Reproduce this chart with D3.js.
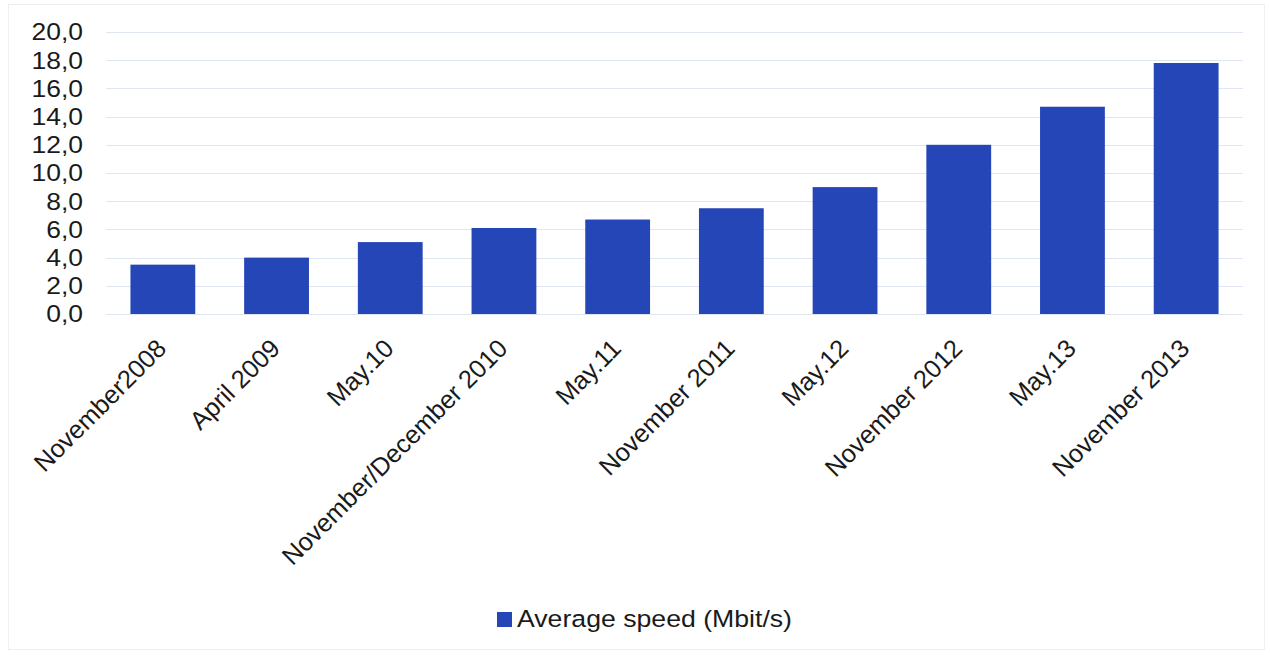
<!DOCTYPE html>
<html>
<head>
<meta charset="utf-8">
<script src="https://cdn.jsdelivr.net/npm/d3@7"></script>
<style>
  html, body { margin: 0; padding: 0; background: #fff; }
  svg { display: block; }
  text { font-family: "Liberation Sans", Arial, sans-serif; fill: #1a1a1a; }
</style>
</head>
<body>
<svg id="chart" width="1270" height="655"></svg>
<script>
// Average broadband speed per survey period
const categories = [
  "November2008", "April 2009", "May.10", "November/December 2010", "May.11",
  "November 2011", "May.12", "November 2012", "May.13", "November 2013"
];
const speeds = [3.5, 4.0, 5.1, 6.1, 6.7, 7.5, 9.0, 12.0, 14.7, 17.8];
const yTicks = [0, 2, 4, 6, 8, 10, 12, 14, 16, 18, 20];
const seriesName = "Average speed (Mbit/s)";

const svg = d3.select("#chart");
const W = 1270, H = 655;
const plot = { left: 106, right: 1243, top: 32, bottom: 314 };
const barColor = "#2546b6";

// faint outer frame
svg.append("rect")
  .attr("x", 8.5).attr("y", 4.5)
  .attr("width", W - 14).attr("height", H - 10)
  .attr("fill", "none").attr("stroke", "#eceff4").attr("stroke-width", 1);

const x = d3.scaleBand()
  .domain(categories)
  .range([plot.left, plot.right])
  .paddingInner(0.43)
  .paddingOuter(0.215);

const y = d3.scaleLinear()
  .domain([0, 20])
  .range([plot.bottom, plot.top]);

const locale = d3.formatLocale({ decimal: ",", thousands: ".", grouping: [3], currency: ["", ""] });
const fmt = locale.format(".1f");

// horizontal gridlines
svg.append("g")
  .selectAll("line")
  .data(yTicks)
  .join("line")
  .attr("x1", plot.left).attr("x2", plot.right)
  .attr("y1", d => Math.round(y(d)) + 0.5).attr("y2", d => Math.round(y(d)) + 0.5)
  .attr("stroke", "#dfe5f1").attr("stroke-width", 1);

// value axis labels (slightly widened glyphs)
const yAxis = d3.axisLeft(y).tickValues(yTicks).tickFormat(fmt).tickSize(0).tickPadding(0);
const gy = svg.append("g").attr("transform", "translate(83,0)").call(yAxis);
gy.select(".domain").remove();
gy.selectAll("text")
  .attr("font-size", 24.5)
  .attr("font-family", "'Liberation Sans', Arial, sans-serif")
  .attr("fill", "#1a1a1a")
  .attr("transform", "scale(1.08,1)");

// bars
svg.append("g")
  .selectAll("rect")
  .data(speeds)
  .join("rect")
  .attr("x", (d, i) => x(categories[i]))
  .attr("y", d => y(d))
  .attr("width", x.bandwidth())
  .attr("height", d => y(0) - y(d))
  .attr("fill", barColor);

// rotated category labels
const xAxis = d3.axisBottom(x).tickSize(0).tickPadding(0);
const gx = svg.append("g").attr("transform", `translate(0,${plot.bottom})`).call(xAxis);
gx.select(".domain").remove();
gx.selectAll(".tick text")
  .attr("font-size", 25.5)
  .attr("font-family", "'Liberation Sans', Arial, sans-serif")
  .attr("fill", "#1a1a1a")
  .attr("text-anchor", "end")
  .attr("dy", 0)
  .attr("y", 0)
  .attr("transform", "translate(5,36) rotate(-45)");

// legend
const legend = svg.append("g").attr("transform", "translate(497,612)");
legend.append("rect")
  .attr("width", 15).attr("height", 15)
  .attr("fill", barColor);
legend.append("text")
  .attr("x", 20).attr("y", 15)
  .attr("font-size", 24.5)
  .attr("textLength", 275)
  .attr("lengthAdjust", "spacingAndGlyphs")
  .text(seriesName);
</script>
</body>
</html>
